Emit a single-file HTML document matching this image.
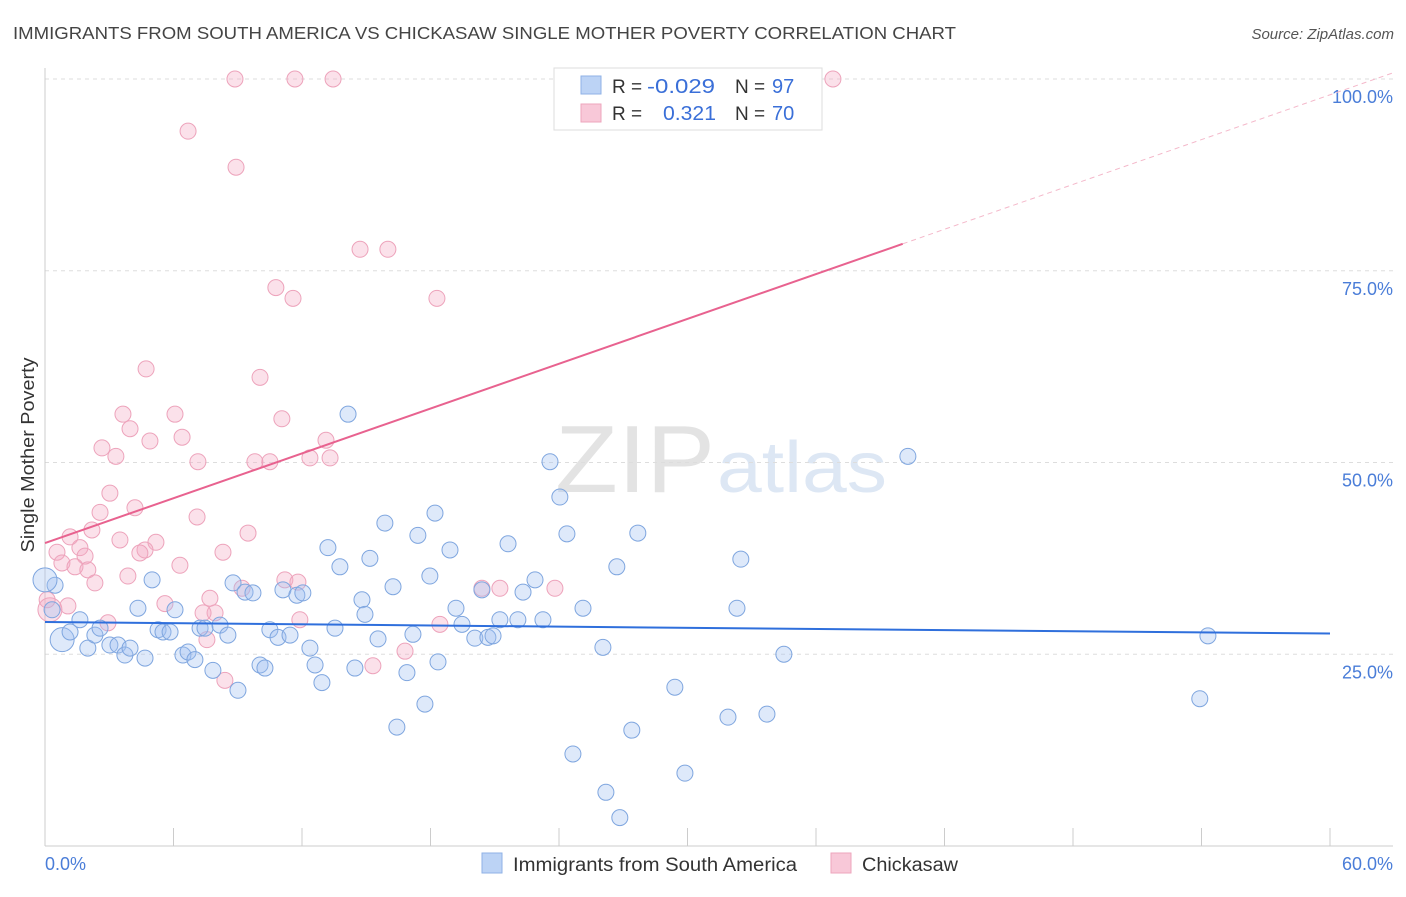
<!DOCTYPE html>
<html><head><meta charset="utf-8">
<style>
body{margin:0;background:#fff;font-family:"Liberation Sans",sans-serif;}
svg text{font-family:"Liberation Sans",sans-serif;}
</style></head>
<body>
<svg id="chart" width="1406" height="892" viewBox="0 0 1406 892" xmlns="http://www.w3.org/2000/svg">
<text x="13" y="39" font-size="17.5" fill="#444" textLength="943" lengthAdjust="spacingAndGlyphs">IMMIGRANTS FROM SOUTH AMERICA VS CHICKASAW SINGLE MOTHER POVERTY CORRELATION CHART</text>
<text x="1394" y="39" font-size="15" fill="#555" text-anchor="end" font-style="italic">Source: ZipAtlas.com</text>
<text transform="translate(34,455) rotate(-90)" font-size="18" fill="#333" text-anchor="middle" textLength="195" lengthAdjust="spacingAndGlyphs">Single Mother Poverty</text>
<g opacity="0.5">
<text x="555" y="492" font-size="96" fill="#c8c8c8" font-family="Liberation Serif, serif" textLength="160" lengthAdjust="spacingAndGlyphs">ZIP</text>
<text x="717" y="492" font-size="72" fill="#bcd0ea" textLength="170" lengthAdjust="spacingAndGlyphs">atlas</text>
</g>
<g id="grid"></g>
<g id="axes"></g>
<g id="pts"></g>
<g id="lines"></g>
<g>
<rect x="554" y="68" width="268" height="62" fill="#fff" stroke="#ddd"/>
<rect x="581" y="76" width="20" height="18" fill="#bcd3f5" stroke="#8fb2e6"/>
<rect x="581" y="104" width="20" height="18" fill="#f8c8d8" stroke="#eea6bc"/>
<text x="612" y="93" font-size="19" fill="#333">R =</text><text x="647" y="93" font-size="20" fill="#3a6fd8" textLength="68" lengthAdjust="spacingAndGlyphs">-0.029</text>
<text x="735" y="93" font-size="19" fill="#333">N =</text><text x="772" y="93" font-size="20" fill="#3a6fd8">97</text>
<text x="612" y="120" font-size="19" fill="#333">R =</text><text x="663" y="120" font-size="20" fill="#3a6fd8" textLength="53" lengthAdjust="spacingAndGlyphs">0.321</text>
<text x="735" y="120" font-size="19" fill="#333">N =</text><text x="772" y="120" font-size="20" fill="#3a6fd8">70</text>
</g>
<g>
<rect x="482" y="853" width="20" height="20" fill="#bcd3f5" stroke="#8fb2e6"/>
<text x="513" y="871" font-size="19" fill="#333" textLength="284" lengthAdjust="spacingAndGlyphs">Immigrants from South America</text>
<rect x="831" y="853" width="20" height="20" fill="#f8c8d8" stroke="#eea6bc"/>
<text x="862" y="871" font-size="19" fill="#333" textLength="96" lengthAdjust="spacingAndGlyphs">Chickasaw</text>
</g>
</svg>
<script>
const blueData=[[0.47,34.0],[0.33,30.8],[0.8,26.9,1],[1.17,27.9],[1.63,29.5],[2.0,25.8],[2.33,27.5],[2.57,28.4],[3.03,26.2],[3.41,26.2],[3.73,24.9],[3.97,25.8],[4.34,31.0],[4.67,24.5],[5.0,34.7],[5.28,28.2],[5.51,27.9],[5.84,27.9],[6.07,30.8],[6.44,24.9],[6.68,25.3],[7.0,24.3],[7.24,28.4],[7.47,28.4],[7.84,22.9],[8.17,28.8],[8.54,27.5],[8.78,34.3],[9.01,20.3],[9.34,33.1],[9.71,33.0],[10.04,23.6],[10.27,23.2],[10.5,28.2],[10.88,27.2],[11.11,33.4],[11.44,27.5],[11.76,32.7],[12.04,33.0],[12.37,25.8],[12.61,23.6],[12.93,21.3],[13.21,38.9],[13.54,28.4],[13.77,36.4],[14.15,56.3],[14.47,23.2],[14.8,32.1],[14.94,30.2],[15.17,37.5],[15.55,27.0],[15.87,42.1],[16.25,33.8],[16.43,15.5],[16.9,22.6],[17.18,27.6],[17.41,40.5],[17.74,18.5],[17.97,35.2],[18.21,43.4],[18.35,24.0],[18.91,38.6],[19.19,31.0],[19.47,28.9],[20.07,27.1],[20.4,33.4],[20.68,27.2],[20.92,27.4],[21.24,29.5],[21.62,39.4],[22.08,29.5],[22.32,33.1],[22.88,34.7],[23.25,29.5],[23.58,50.1],[24.04,45.5],[24.37,40.7],[24.65,12.0],[25.12,31.0],[26.05,25.9],[26.19,7.0],[26.7,36.4],[26.84,3.7],[27.4,15.1],[27.68,40.8],[29.41,20.7],[29.88,9.5],[31.89,16.8],[32.31,31.0],[32.49,37.4],[33.71,17.2],[34.5,25.0],[40.29,50.8],[53.92,19.2],[54.3,27.4],[0,34.7,1]];
const pinkData=[[8.87,100],[11.67,100],[13.45,100],[36.79,100],[6.68,93.2],[8.92,88.5],[14.71,77.8],[16.01,77.8],[10.78,72.8],[11.58,71.4],[18.3,71.4],[4.72,62.2],[10.04,61.1],[3.64,56.3],[6.07,56.3],[11.06,55.7],[3.97,54.4],[2.66,51.9],[4.9,52.8],[6.4,53.3],[13.12,52.9],[3.31,50.8],[7.14,50.1],[9.8,50.1],[10.5,50.1],[12.37,50.6],[13.31,50.6],[3.03,46.0],[4.2,44.1],[2.57,43.5],[7.1,42.9],[2.19,41.2],[1.17,40.3],[9.48,40.8],[3.5,39.9],[1.63,38.9],[5.18,39.6],[4.67,38.6],[0.56,38.3],[4.43,38.2],[8.31,38.3],[1.87,37.8],[0.79,36.9],[1.4,36.4],[6.3,36.6],[2.0,36.0],[3.87,35.2],[2.33,34.3],[11.2,34.7],[11.81,34.4],[9.2,33.6],[20.4,33.6],[21.24,33.6],[23.81,33.6],[7.7,32.3],[5.6,31.6],[1.07,31.3],[7.94,30.4],[7.38,30.4],[0.23,30.8,1],[2.94,29.1],[11.9,29.5],[18.44,28.9],[7.56,26.9],[16.81,25.4],[15.31,23.5],[8.4,21.6],[0.1,32.1]];
const yTicks=[25,50,75,100];
const yTickLabels=["25.0%","50.0%","75.0%","100.0%"];
const xTickLabels=["0.0%","60.0%"];
const blueTrend=[29.2,27.7];
const pinkTrend=[39.5,0.974];

const NS="http://www.w3.org/2000/svg";
const X=v=>45+v*(1285/60);
const Y=v=>846-v*7.67;
function mk(tag,attrs,parent){const e=document.createElementNS(NS,tag);for(const k in attrs)e.setAttribute(k,attrs[k]);document.getElementById(parent).appendChild(e);return e;}
yTicks.forEach((t,i)=>{
 const g=mk('line',{x1:45,x2:1393,y1:Y(t),y2:Y(t),stroke:'#ddd','stroke-dasharray':'4,4'},'grid');
 
 
 const l=mk('text',{x:1393,y:Y(t)+24,'font-size':18,fill:'#4a7dd8','text-anchor':'end'},'axes');
 l.textContent=yTickLabels[i];
 
 
});
mk('line',{x1:45,x2:45,y1:68,y2:846,stroke:'#ccc'},'axes');
mk('line',{x1:45,x2:1393,y1:846,y2:846,stroke:'#ccc'},'axes');
for(let i=0;i<=10;i++){mk('line',{x1:X(i*6),x2:X(i*6),y1:828,y2:846,stroke:'#ccc'},'axes');}
const xl0=mk('text',{x:45,y:870,'font-size':18,fill:'#4a7dd8'},'axes');xl0.textContent=xTickLabels[0];


const xl1=mk('text',{x:1393,y:870,'font-size':18,fill:'#4a7dd8','text-anchor':'end'},'axes');xl1.textContent=xTickLabels[1];


pinkData.forEach(d=>{
 const c=mk('circle',{cx:X(d[0]),cy:Y(d[1]),r:d[2]?12:8,fill:'rgba(244,170,195,0.35)',stroke:'#eda3bb','stroke-width':1},'pts');
 
 
});
blueData.forEach(d=>{
 const c=mk('circle',{cx:X(d[0]),cy:Y(d[1]),r:d[2]?12:8,fill:'rgba(160,192,240,0.35)',stroke:'#7fa6df','stroke-width':1},'pts');
 
 
});
const bl=mk('line',{x1:X(0),y1:Y(blueTrend[0]),x2:X(60),y2:Y(blueTrend[1]),stroke:'#2f6fdc','stroke-width':2},'lines');


const px=40.05;
const pl=mk('line',{x1:X(0),y1:Y(pinkTrend[0]),x2:X(px),y2:Y(pinkTrend[0]+pinkTrend[1]*px),stroke:'#e8628f','stroke-width':2},'lines');


const pd=mk('line',{x1:X(px),y1:Y(pinkTrend[0]+pinkTrend[1]*px),x2:X(62.9),y2:Y(pinkTrend[0]+pinkTrend[1]*62.9),stroke:'#f4b8ca','stroke-width':1,'stroke-dasharray':'5,4'},'lines');


</script>
</body></html>
